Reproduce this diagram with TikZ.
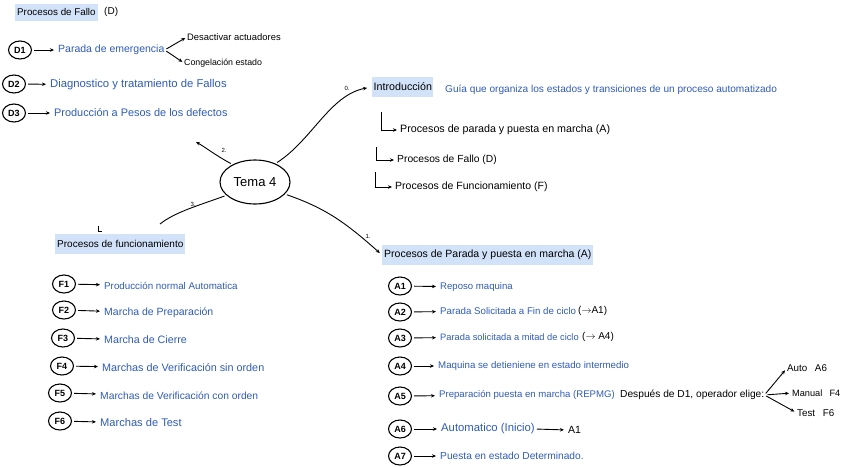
\documentclass[tikz,border=0pt]{standalone}
\usepackage{fontspec}
\setmainfont{Liberation Sans}
\usetikzlibrary{shapes.geometric,arrows.meta}
\definecolor{hand}{HTML}{2F5BB7}
\definecolor{hl}{HTML}{D2E2F8}
\newcommand{\fs}[1]{\fontsize{#1}{#1}\selectfont}
\begin{document}
\begin{tikzpicture}[x=1pt,y=-1pt,
  tag/.style={draw,ellipse,line width=1.1pt,inner sep=0pt,minimum width=23pt,minimum height=18pt,font=\fs{9}\bfseries},
  bt/.style={text=hand,anchor=west,inner sep=0pt,font=\fs{10}},
  kt/.style={text=black,anchor=west,inner sep=0pt,font=\fs{10}},
  hdr/.style={fill=hl,anchor=west,inner xsep=2pt,minimum height=20pt},
  num/.style={inner sep=0pt,font=\fs{6}},
  arr/.style={-{Stealth[length=4pt,width=3.5pt]},line width=0.9pt},
  ln/.style={line width=0.9pt},
  lk/.style={arr,shorten <=2pt,shorten >=4pt}]
\useasboundingbox (0,0) rectangle (848,466);

% ---------- Procesos de Fallo (D)
\node[hdr,minimum height=17pt,font=\fs{9.8}] (hD) at (15,12) {Procesos de Fallo};
\node[kt] (hDp) at (104,12) {(D)};
\node[tag] (D1) at (20,50) {D1};
\node[bt,font=\fs{10.5}] (D1t) at (58,50) {Parada de emergencia};
\node[kt,font=\fs{9.4}] (D1a) at (187,37) {Desactivar actuadores};
\node[kt,font=\fs{8.8}] (D1b) at (184,63) {Congelación estado};
\node[tag] (D2) at (14,84) {D2};
\node[bt,font=\fs{11.3}] (D2t) at (50,85) {Diagnostico y tratamiento de Fallos};
\node[tag] (D3) at (14,113) {D3};
\node[bt,font=\fs{10.9}] (D3t) at (54,113) {Producción a Pesos de los defectos};
\draw[lk] (D1) -- (D1t);
\draw[lk] (D2) -- (D2t);
\draw[lk] (D3) -- (D3t);
\draw[arr,shorten <=2pt,shorten >=2pt] (D1t.east) -- (D1a.west);
\draw[arr,shorten <=2pt,shorten >=2pt] (D1t.east) -- (D1b.west);

% ---------- Tema 4
\node[draw,ellipse,line width=1.1pt,minimum width=70pt,minimum height=44pt,inner sep=0pt,font=\fs{13}] (T) at (255,182) {Tema 4};

% ---------- Introduccion
\node[hdr,font=\fs{10.7},inner xsep=1.5pt] (intro) at (372,87) {Introducción};
\node[bt,font=\fs{10.1}] (guia) at (445,90) {Guía que organiza los estados y transiciones de un proceso automatizado};
\node[kt,font=\fs{10.7}] (sA) at (400,130) {Procesos de parada y puesta en marcha (A)};
\node[kt,font=\fs{10.3}] (sD) at (397,160) {Procesos de Fallo (D)};
\node[kt,font=\fs{10.5}] (sF) at (395,187) {Procesos de Funcionamiento (F)};
\coordinate (LA) at (381,112);
\coordinate (LD) at (376,147);
\coordinate (LF) at (375,172);
\draw[arr,shorten >=3pt] (LA) |- (sA.west);
\draw[arr,shorten >=3pt] (LD) |- (sD.west);
\draw[arr,shorten >=3pt] (LF) |- (sF.west);

% ---------- main connectors
\draw[arr,shorten <=2pt,shorten >=5pt] (T.42) .. controls (312,140) and (330,95) .. (intro.west);
\node[num] (n0) at (347,88) {0.};
\coordinate (c2) at (196,142);
\draw[arr,shorten <=2pt] (T.142) .. controls (215,155) and (205,147) .. (c2);
\node[num] (n2) at (224,150) {2.};
\coordinate (c3) at (160,224);
\draw[ln,shorten <=2pt] (T.205) .. controls (200,205) and (175,212) .. (c3);
\node[num] (n3) at (193,204) {3.};
\draw[ln] (98,226) -- (98,231) -- (102,231);
\node[hdr,font=\fs{10.5}] (hA) at (382,255) {Procesos de Parada y puesta en marcha (A)};
\draw[arr,shorten <=2pt,shorten >=3pt] (T.-22) .. controls (325,208) and (345,222) .. (hA.west);
\node[num] (n1) at (368,236) {1.};

% ---------- Procesos de funcionamiento
\node[hdr,font=\fs{10}] (hF) at (55,244) {Procesos de funcionamiento};
\node[tag] (F1) at (64,284) {F1};
\node[bt,font=\fs{9.8}] (F1t) at (104,286) {Producción normal Automatica};
\node[tag] (F2) at (64,310) {F2};
\node[bt,font=\fs{10.5}] (F2t) at (104,313) {Marcha de Preparación};
\node[tag] (F3) at (63,338) {F3};
\node[bt,font=\fs{10.7}] (F3t) at (104,340) {Marcha de Cierre};
\node[tag] (F4) at (62,366) {F4};
\node[bt,font=\fs{10.8}] (F4t) at (102,368) {Marchas de Verificación sin orden};
\node[tag] (F5) at (60,393) {F5};
\node[bt,font=\fs{10.3}] (F5t) at (100,396) {Marchas de Verificación con orden};
\node[tag] (F6) at (60,421) {F6};
\node[bt,font=\fs{11.1}] (F6t) at (100,423) {Marchas de Test};
\foreach \i in {1,...,6} {\draw[lk] (F\i) -- (F\i t);}

% ---------- Procesos A
\node[tag] (A1) at (400,286) {A1};
\node[bt,font=\fs{9.6}] (A1t) at (440,287) {Reposo maquina};
\node[tag] (A2) at (400,312) {A2};
\node[bt,font=\fs{9.7}] (A2t) at (440,311) {Parada Solicitada a Fin de ciclo};
\node[kt] (A2r) at (578,311) {($\rightarrow$A1)};
\node[tag] (A3) at (400,338) {A3};
\node[bt,font=\fs{9.3}] (A3t) at (440,337) {Parada solicitada a mitad de ciclo};
\node[kt] (A3r) at (582,337) {($\rightarrow$ A4)};
\node[tag] (A4) at (400,366) {A4};
\node[bt,font=\fs{9.7}] (A4t) at (438,366) {Maquina se detieniene en estado intermedio};
\node[tag] (A5) at (400,396) {A5};
\node[bt,font=\fs{9.6}] (A5t) at (439,395) {Preparación puesta en marcha (REPMG)};
\node[kt,font=\fs{10.2}] (A5k) at (620,395) {Después de D1, operador elige:};
\node[kt,font=\fs{9.8}] (A5a) at (787,368) {Auto \enspace A6};
\node[kt,font=\fs{9.2}] (A5b) at (792,393) {Manual \enspace F4};
\node[kt,font=\fs{9.8}] (A5c) at (797,413) {Test \enspace F6};
\draw[arr,shorten <=2pt,shorten >=3pt] (A5k.east) -- (A5a.west);
\draw[arr,shorten <=3pt,shorten >=3pt] (A5k.east) -- (A5b.west);
\draw[arr,shorten <=2pt,shorten >=3pt] (A5k.east) -- (A5c.west);
\node[tag] (A6) at (400,429) {A6};
\node[bt,font=\fs{11.3}] (A6t) at (441,429) {Automatico (Inicio)};
\node[kt,font=\fs{10.5}] (A6r) at (568,430) {A1};
\draw[arr,shorten <=2pt,shorten >=4pt] (A6t.east) -- (A6r.west);
\node[tag] (A7) at (400,456) {A7};
\node[bt,font=\fs{10.2}] (A7t) at (440,456) {Puesta en estado Determinado.};
\foreach \i in {1,...,7} {\draw[lk] (A\i) -- (A\i t);}
\end{tikzpicture}
\end{document}
